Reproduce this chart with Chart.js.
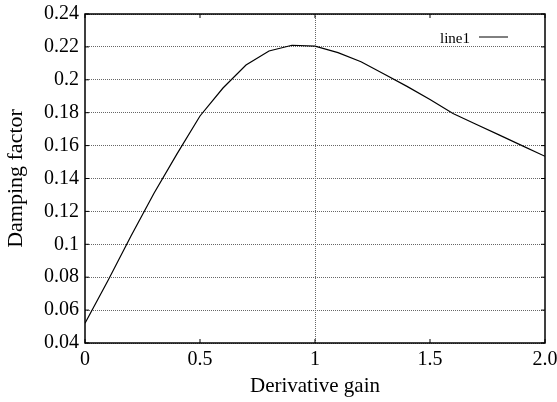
<!DOCTYPE html>
<html>
<head>
<meta charset="utf-8">
<script src="https://cdn.jsdelivr.net/npm/chart.js@4.4.1/dist/chart.umd.min.js"></script>
<style>
html, body { margin: 0; padding: 0; background: #fff; }
</style>
</head>
<body>
<canvas id="grafico" width="557" height="402"></canvas>
<script>
// dados
const ganho = [0, 0.1, 0.2, 0.3, 0.4, 0.5, 0.6, 0.7, 0.8, 0.9, 1.0,
               1.1, 1.2, 1.3, 1.4, 1.5, 1.6, 1.7, 1.8, 1.9, 2.0];
const amortecimento = [0.052, 0.078, 0.105, 0.131, 0.155, 0.178, 0.195, 0.209, 0.2175, 0.221, 0.2205,
                       0.2165, 0.211, 0.2035, 0.196, 0.188, 0.1795, 0.173, 0.1665, 0.160, 0.1535];
const ticksX = [0, 0.5, 1, 1.5, 2];
const rotulosX = ['0', '0.5', '1', '1.5', '2.0'];
const ticksY = [0.04, 0.06, 0.08, 0.10, 0.12, 0.14, 0.16, 0.18, 0.20, 0.22, 0.24];
const rotulosY = ['0.04', '0.06', '0.08', '0.1', '0.12', '0.14', '0.16', '0.18', '0.2', '0.22', '0.24'];

const fonte = 'Liberation Serif';

// moldura, marcas internas e legenda no estilo gnuplot
const moldura = {
    id: 'moldura',
    afterDraw(chart) {
        const c = chart.ctx;
        const a = chart.chartArea;
        const sx = chart.scales.x, sy = chart.scales.y;
        c.save();
        c.strokeStyle = '#000';
        c.lineWidth = 1;
        c.beginPath();
        ticksX.forEach(v => {
            const px = sx.getPixelForValue(v);
            c.moveTo(px, a.bottom); c.lineTo(px, a.bottom - 4);
            c.moveTo(px, a.top); c.lineTo(px, a.top + 4);
        });
        ticksY.forEach(v => {
            const py = sy.getPixelForValue(v);
            c.moveTo(a.left, py); c.lineTo(a.left + 4, py);
            c.moveTo(a.right, py); c.lineTo(a.right - 4, py);
        });
        c.stroke();
        c.lineWidth = 1.5;
        c.strokeRect(a.left, a.top, a.right - a.left, a.bottom - a.top);

        // legenda
        const ds = chart.data.datasets[0];
        c.font = '15px "' + fonte + '"';
        c.fillStyle = '#000';
        c.textAlign = 'right';
        c.textBaseline = 'middle';
        c.fillText(ds.label, a.right - 75, a.top + 25);
        c.lineWidth = 1;
        c.beginPath();
        c.moveTo(a.right - 66, a.top + 23);
        c.lineTo(a.right - 37, a.top + 23);
        c.stroke();
        c.restore();
    }
};

const ctx = document.getElementById('grafico').getContext('2d');
const grafico = new Chart(ctx, {
    type: 'line',
    data: {
        labels: ganho,
        datasets: [{
            label: 'line1',
            data: ganho.map((g, i) => ({ x: g, y: amortecimento[i] })),
            borderColor: '#000',
            borderWidth: 1.2,
            pointRadius: 0,
            tension: 0,
            fill: false
        }]
    },
    options: {
        responsive: false,
        animation: false,
        devicePixelRatio: 1,
        layout: { padding: { top: 14, right: 12, left: 0, bottom: 0 } },
        plugins: {
            legend: { display: false },
            tooltip: { enabled: false }
        },
        scales: {
            x: {
                type: 'linear',
                min: 0,
                max: 2,
                afterBuildTicks: scale => { scale.ticks = ticksX.map(v => ({ value: v })); },
                afterFit: scale => {
                    scale.height = 59;
                    scale.paddingLeft = 0;
                    scale.paddingRight = 0;
                },
                ticks: {
                    callback: (v, i) => rotulosX[i],
                    color: '#000',
                    font: { family: fonte, size: 20 },
                    padding: 5,
                    maxRotation: 0
                },
                grid: {
                    color: ctx => ctx.tick && ctx.tick.value === 1 ? '#666' : 'rgba(0,0,0,0)',
                    lineWidth: 1,
                    drawTicks: false
                },
                border: { display: false, dash: [1, 1] },
                title: {
                    display: true,
                    text: 'Derivative gain',
                    color: '#000',
                    font: { family: fonte, size: 21 },
                    padding: { top: 0, bottom: 3 }
                }
            },
            y: {
                min: 0.04,
                max: 0.24,
                afterBuildTicks: scale => { scale.ticks = ticksY.map(v => ({ value: v })); },
                afterFit: scale => {
                    scale.width = 85;
                    scale.paddingTop = 0;
                    scale.paddingBottom = 0;
                },
                ticks: {
                    callback: (v, i) => rotulosY[i],
                    color: '#000',
                    font: { family: fonte, size: 20 },
                    padding: 6
                },
                grid: {
                    color: '#666',
                    lineWidth: 1,
                    drawTicks: false
                },
                border: { display: false, dash: [1, 1] },
                title: {
                    display: true,
                    text: 'Damping factor',
                    color: '#000',
                    font: { family: fonte, size: 22 },
                    padding: { top: 3, bottom: 0 }
                }
            }
        }
    },
    plugins: [moldura]
});
</script>
</body>
</html>
